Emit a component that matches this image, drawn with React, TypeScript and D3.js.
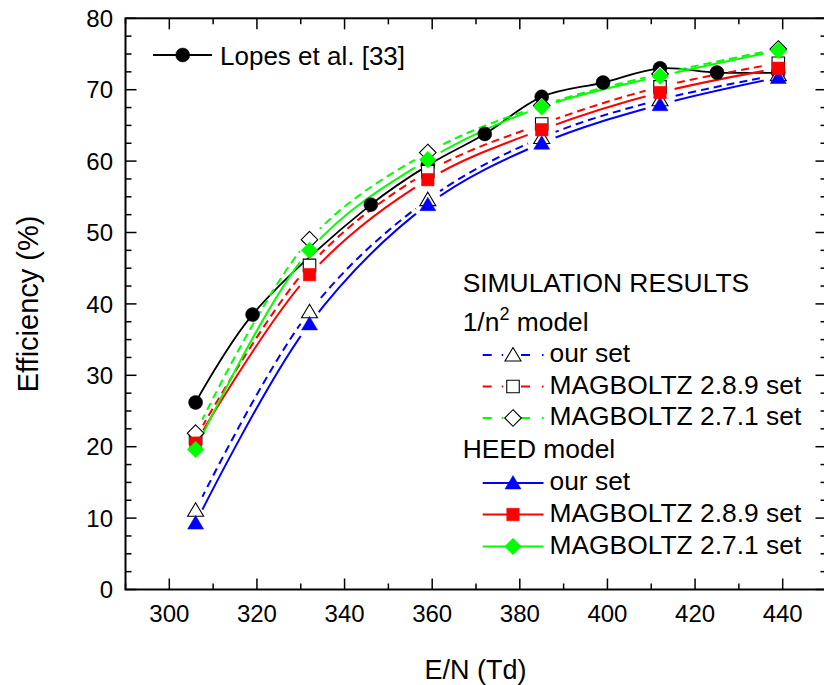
import React from 'react';
import * as d3 from 'd3';

// ---- data ----
const simE = [306, 332, 359, 385, 412, 439];
const lopesE = [306, 319, 346, 359, 372, 385, 399, 412, 425, 439];
const lopesEff = [26.2, 38.5, 53.9, 59.4, 63.8, 69.0, 71.0, 73.0, 72.4, 72.4];

const n2OurSet = [11.1, 38.9, 54.6, 63.3, 68.6, 72.1];
const n2Mag289 = [21.2, 45.4, 58.5, 65.2, 70.4, 73.7];
const n2Mag271 = [21.9, 49.0, 61.2, 67.8, 72.2, 75.7];
const heedOurSet = [9.3, 37.2, 53.9, 62.5, 67.9, 71.7];
const heedMag289 = [20.5, 44.1, 57.4, 64.4, 69.6, 73.0];
const heedMag271 = [19.6, 47.5, 60.2, 67.6, 71.9, 75.5];

const xTicks = [300, 320, 340, 360, 380, 400, 420, 440];
const yTicks = [0, 10, 20, 30, 40, 50, 60, 70, 80];

const legendItems = ['our set', 'MAGBOLTZ 2.8.9 set', 'MAGBOLTZ 2.7.1 set'];

type Marker = 'triangle' | 'square' | 'diamond' | 'circle';
interface Series {
  id: string;
  xs: number[];
  ys: number[];
  color: string;
  dashed: boolean;
  marker: Marker;
  filled: boolean;
  gap: number;
}

const series: Series[] = [
  { id: 'lopes', xs: lopesE, ys: lopesEff, color: '#000000', dashed: false, marker: 'circle', filled: true, gap: 0 },
  { id: 'n2our', xs: simE, ys: n2OurSet, color: '#0000ff', dashed: true, marker: 'triangle', filled: false, gap: 15 },
  { id: 'n2m289', xs: simE, ys: n2Mag289, color: '#ff0000', dashed: true, marker: 'square', filled: false, gap: 15 },
  { id: 'n2m271', xs: simE, ys: n2Mag271, color: '#00ff00', dashed: true, marker: 'diamond', filled: false, gap: 15 },
  { id: 'heedour', xs: simE, ys: heedOurSet, color: '#0000ff', dashed: false, marker: 'triangle', filled: true, gap: 15 },
  { id: 'heedm289', xs: simE, ys: heedMag289, color: '#ff0000', dashed: false, marker: 'square', filled: true, gap: 15 },
  { id: 'heedm271', xs: simE, ys: heedMag271, color: '#00ff00', dashed: false, marker: 'diamond', filled: true, gap: 15 },
];

const W = 824;
const H = 685;
const x = d3.scaleLinear().domain([290, 450]).range([125.5, 826.5]);
const y = d3.scaleLinear().domain([0, 80]).range([589.5, 18.3]);

const FONT = '"Liberation Sans", Arial, sans-serif';

function markerPath(m: Marker): string {
  if (m === 'triangle') {
    return 'M0,-7.5L8,6L-8,6Z';
  }
  if (m === 'square') return d3.symbol(d3.symbolSquare, 12.5 * 12.5)() as string;
  if (m === 'circle') return d3.symbol(d3.symbolCircle, Math.PI * 7 * 7)() as string;
  return 'M0,-8.3L8.3,0L0,8.3L-8.3,0Z';
}

function MarkerShape({ s, cx, cy }: { s: Series; cx: number; cy: number }) {
  return (
    <path
      d={markerPath(s.marker)}
      transform={`translate(${cx},${cy})`}
      fill={s.filled ? s.color : '#ffffff'}
      stroke={s.filled ? s.color : '#000000'}
      strokeWidth={s.filled ? 0.5 : 1.1}
    />
  );
}

export default function App() {
  const line = d3
    .line<[number, number]>()
    .x((d) => x(d[0]))
    .y((d) => y(d[1]))
    .curve(d3.curveCatmullRom.alpha(0.5));

  const xMinor = d3.range(290, 451, 10);
  const yMinor = d3.range(0, 80.01, 2.5);
  const x0 = x(290);
  const x1 = x(450);
  const y0 = y(0);
  const y1 = y(80);

  const legendRowsN2 = [355, 386.5, 418];
  const legendRowsHeed = [483, 514.5, 546.5];
  const n2Series = series.slice(1, 4);
  const heedSeries = series.slice(4, 7);
  const LF = 26.4;

  return (
    <svg width={W} height={H} style={{ position: 'absolute', left: 0, top: 0, background: '#fff' }} fontFamily={FONT}>
      <defs>
        {series.map((s) =>
          s.gap > 0 ? (
            <mask id={`mask-${s.id}`} key={s.id} maskUnits="userSpaceOnUse" x={0} y={0} width={W} height={H}>
              <rect x={0} y={0} width={W} height={H} fill="#fff" />
              {s.xs.map((xv, i) => (
                <circle key={i} cx={x(xv)} cy={y(s.ys[i])} r={s.gap} fill="#000" />
              ))}
            </mask>
          ) : null
        )}
      </defs>

      {/* lines */}
      {series.map((s) => (
        <path
          key={`l-${s.id}`}
          d={line(s.xs.map((xv, i) => [xv, s.ys[i]] as [number, number])) || ''}
          fill="none"
          stroke={s.color}
          strokeWidth={s.id === 'lopes' ? 1.8 : 2}
          strokeDasharray={s.dashed ? '8,5' : undefined}
          mask={s.gap > 0 ? `url(#mask-${s.id})` : undefined}
        />
      ))}

      {/* markers */}
      {series.map((s) => (
        <g key={`m-${s.id}`}>
          {s.xs.map((xv, i) => (
            <MarkerShape key={i} s={s} cx={x(xv)} cy={y(s.ys[i])} />
          ))}
        </g>
      ))}

      {/* axes frame */}
      <rect x={x0} y={y1} width={x1 - x0} height={y0 - y1} fill="none" stroke="#000" strokeWidth={2} />
      {xMinor.map((v) => {
        const major = v % 20 === 0;
        const len = major ? 11 : 6;
        return (
          <g key={`xt-${v}`}>
            <line x1={x(v)} x2={x(v)} y1={y0} y2={y0 - len} stroke="#000" strokeWidth={1.5} />
            <line x1={x(v)} x2={x(v)} y1={y1} y2={y1 + len} stroke="#000" strokeWidth={1.5} />
          </g>
        );
      })}
      {yMinor.map((v) => {
        const major = v % 10 === 0;
        const len = major ? 11 : 6;
        return (
          <g key={`yt-${v}`}>
            <line x1={x0} x2={x0 + len} y1={y(v)} y2={y(v)} stroke="#000" strokeWidth={1.5} />
            <line x1={x1} x2={x1 - len} y1={y(v)} y2={y(v)} stroke="#000" strokeWidth={1.5} />
          </g>
        );
      })}

      {/* tick labels */}
      {xTicks.map((v) => (
        <text key={`xl-${v}`} x={x(v)} y={622} fontSize={24} textAnchor="middle" fill="#000">
          {v}
        </text>
      ))}
      {yTicks.map((v) => (
        <text key={`yl-${v}`} x={113} y={y(v) + 8.6} fontSize={24} textAnchor="end" fill="#000">
          {v}
        </text>
      ))}

      {/* axis titles */}
      <text x={475.5} y={679} fontSize={27} textAnchor="middle" fill="#000">
        E/N (Td)
      </text>
      <text transform={`translate(38,${(y0 + y1) / 2}) rotate(-90)`} fontSize={29} textAnchor="middle" fill="#000">
        Efficiency (%)
      </text>

      {/* Lopes legend */}
      <line x1={153} x2={212} y1={55} y2={55} stroke="#000" strokeWidth={1.8} />
      <MarkerShape s={series[0]} cx={182.7} cy={55} />
      <text x={220} y={64.5} fontSize={26} fill="#000">
        Lopes et al. [33]
      </text>

      {/* simulation legend */}
      <text x={462.7} y={291.7} fontSize={LF} fill="#000">
        SIMULATION RESULTS
      </text>
      <text x={462.7} y={330.7} fontSize={LF} fill="#000">
        1/n
        <tspan fontSize={18} dy={-11}>2</tspan>
        <tspan dy={11}> model</tspan>
      </text>
      {n2Series.map((s, i) => {
        const cy = legendRowsN2[i];
        return (
          <g key={`lg-${s.id}`}>
            <line x1={482.7} x2={505} y1={cy} y2={cy} stroke={s.color} strokeWidth={2} strokeDasharray="9,10,1.5,30" />
            <line x1={521} x2={543.5} y1={cy} y2={cy} stroke={s.color} strokeWidth={2} strokeDasharray="9,12,1.5,30" />
            <MarkerShape s={s} cx={513} cy={cy} />
            <text x={549.5} y={cy + 7} fontSize={LF} fill="#000">
              {legendItems[i]}
            </text>
          </g>
        );
      })}
      <text x={462.7} y={458.3} fontSize={LF} fill="#000">
        HEED model
      </text>
      {heedSeries.map((s, i) => {
        const cy = legendRowsHeed[i];
        return (
          <g key={`lg-${s.id}`}>
            <line x1={482.7} x2={543.5} y1={cy} y2={cy} stroke={s.color} strokeWidth={2} />
            <MarkerShape s={s} cx={513} cy={cy} />
            <text x={549.5} y={cy + 7} fontSize={LF} fill="#000">
              {legendItems[i]}
            </text>
          </g>
        );
      })}
    </svg>
  );
}
